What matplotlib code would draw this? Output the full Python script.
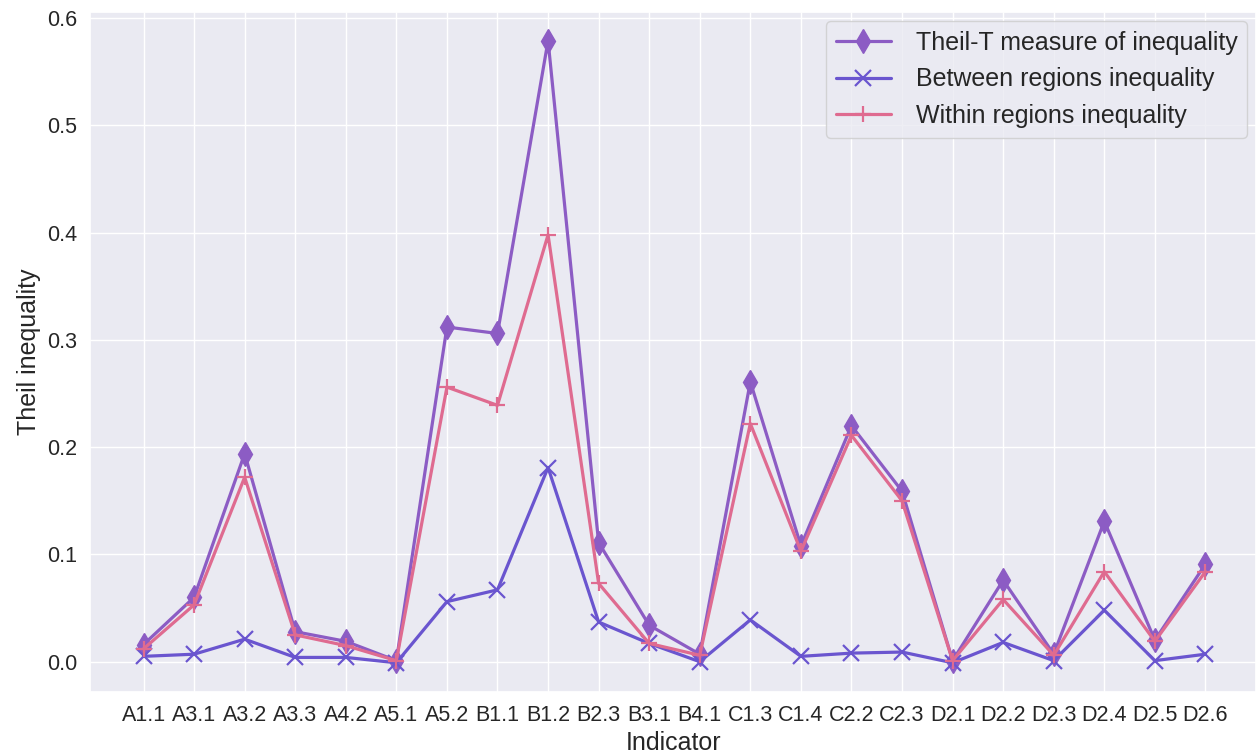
import numpy as np
import matplotlib
matplotlib.use('Agg')
import matplotlib.pyplot as plt
import seaborn as sns

sns.set_theme(style='darkgrid')
plt.rcParams['font.family'] = ['Arial', 'Liberation Sans', 'DejaVu Sans']

indicators = ['A1.1', 'A3.1', 'A3.2', 'A3.3', 'A4.2', 'A5.1', 'A5.2', 'B1.1', 'B1.2', 'B2.3', 'B3.1',
              'B4.1', 'C1.3', 'C1.4', 'C2.2', 'C2.3', 'D2.1', 'D2.2', 'D2.3', 'D2.4', 'D2.5', 'D2.6']

# Theil-T and its decomposition
theil_t = [0.016, 0.060, 0.194, 0.028, 0.019, 0.001, 0.312, 0.306, 0.579, 0.111, 0.034,
           0.007, 0.261, 0.108, 0.220, 0.159, 0.001, 0.076, 0.007, 0.131, 0.020, 0.091]
between = [0.005, 0.007, 0.021, 0.004, 0.004, -0.001, 0.056, 0.067, 0.181, 0.037, 0.017,
           0.000, 0.039, 0.005, 0.008, 0.009, -0.001, 0.018, 0.001, 0.048, 0.001, 0.007]
within = [0.012, 0.053, 0.172, 0.025, 0.015, 0.001, 0.256, 0.239, 0.398, 0.073, 0.017,
          0.006, 0.222, 0.103, 0.211, 0.150, 0.001, 0.058, 0.006, 0.084, 0.019, 0.084]

x = np.arange(len(indicators))

fig, ax = plt.subplots(figsize=(12.56, 7.56), dpi=100)
fig.subplots_adjust(left=0.072, right=1.0, top=0.984, bottom=0.085)

ax.plot(x, theil_t, color='#8c5cc4', marker='d', markersize=12, linewidth=2.3,
        label='Theil-T measure of inequality')
ax.plot(x, between, color='#6a55cf', marker='x', markersize=11, markeredgewidth=1.6, linewidth=2.3,
        label='Between regions inequality')
ax.plot(x, within, color='#df6b90', marker='+', markersize=12, markeredgewidth=1.6, linewidth=2.3,
        label='Within regions inequality')

ax.set_xticks(x)
ax.set_xticklabels(indicators, fontsize=15.5)
ax.tick_params(axis='y', labelsize=15.5)
ax.set_xlim(-1.05, 22.0)
ax.set_ylim(-0.028, 0.6056)
ax.set_yticks(np.arange(0, 0.61, 0.1))
ax.set_xlabel('Indicator', fontsize=18, labelpad=4)
ax.set_ylabel('Theil inequality', fontsize=18)
ax.legend(loc='upper right', fontsize=18, handlelength=2.2, borderaxespad=0.35,
          borderpad=0.4, labelspacing=0.5, handletextpad=1.0)

fig.savefig('out.png', dpi=100)
